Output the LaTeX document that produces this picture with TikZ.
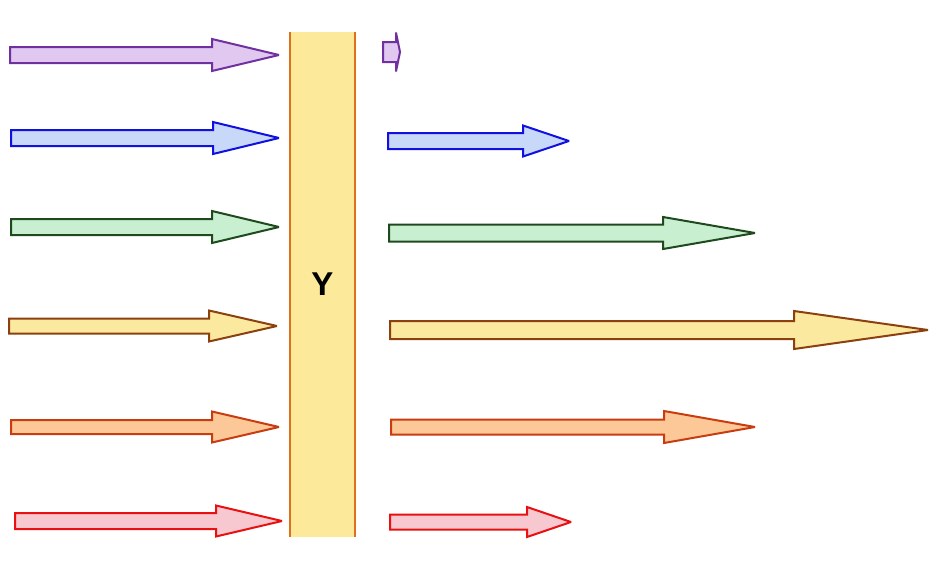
\documentclass[tikz,border=0pt]{standalone}
\usepackage{fontspec}
\setmainfont{Liberation Sans}
\definecolor{purF}{HTML}{E0C8F0}\definecolor{purD}{HTML}{7030A0}
\definecolor{bluF}{HTML}{C8D8F8}\definecolor{bluD}{HTML}{1010E0}
\definecolor{grnF}{HTML}{C8F0D0}\definecolor{grnD}{HTML}{1E4A1E}
\definecolor{yelF}{HTML}{FCE9A0}\definecolor{yelD}{HTML}{8C4010}
\definecolor{orgF}{HTML}{FCC898}\definecolor{orgD}{HTML}{C83C10}
\definecolor{redF}{HTML}{F8C8D0}\definecolor{redD}{HTML}{E81010}
\definecolor{barF}{HTML}{FCE99A}\definecolor{barD}{HTML}{E07020}
\tikzset{
  fat/.style={line width=2pt, line join=miter, miter limit=3},
  purA/.style={fat, draw=purD, fill=purF},
  bluA/.style={fat, draw=bluD, fill=bluF},
  grnA/.style={fat, draw=grnD, fill=grnF},
  yelA/.style={fat, draw=yelD, fill=yelF},
  orgA/.style={fat, draw=orgD, fill=orgF},
  redA/.style={fat, draw=redD, fill=redF},
  barbox/.style={fill=barF, minimum width=65pt, minimum height=505pt, inner sep=0pt, font=\fontsize{33}{36}\selectfont\bfseries},
  baredge/.style={draw=barD, line width=2pt}
}
% style, x0, head base, tip, centre y, shaft half width, head half width
\newcommand{\fatarr}[7]{%
  \draw[#1] (#2,#5-#6) -- (#3,#5-#6) -- (#3,#5-#7) -- (#4,#5) -- (#3,#5+#7) -- (#3,#5+#6) -- (#2,#5+#6) -- cycle;}
\begin{document}
\begin{tikzpicture}[x=1pt,y=-1pt]
\useasboundingbox (0,0) rectangle (940,571);
\node[barbox] (bar) at (322.5,284.5) {Y};
\draw[baredge] (bar.north west) -- (bar.south west);
\draw[baredge] (bar.north east) -- (bar.south east);
% left arrows
\fatarr{purA}{10}{212}{279}{55}{8}{16}
\fatarr{bluA}{11}{213}{279}{138}{8}{16}
\fatarr{grnA}{11}{212}{279}{227}{8}{16}
\fatarr{yelA}{9}{209}{277}{326}{7.5}{15.5}
\fatarr{orgA}{11}{212}{279}{427}{7}{15.5}
\fatarr{redA}{15}{216}{282}{521}{8}{15.5}
% right arrows
\fatarr{purA}{383}{396}{400}{52}{10}{19.5}
\fatarr{bluA}{388}{523}{569}{141}{8}{15.5}
\fatarr{grnA}{389}{663}{755}{233}{8.5}{16}
\fatarr{yelA}{390}{794}{928}{330}{9}{19}
\fatarr{orgA}{391}{664}{755}{427}{7.5}{16}
\fatarr{redA}{390}{527}{571}{522}{7.5}{15}
\end{tikzpicture}
\end{document}
